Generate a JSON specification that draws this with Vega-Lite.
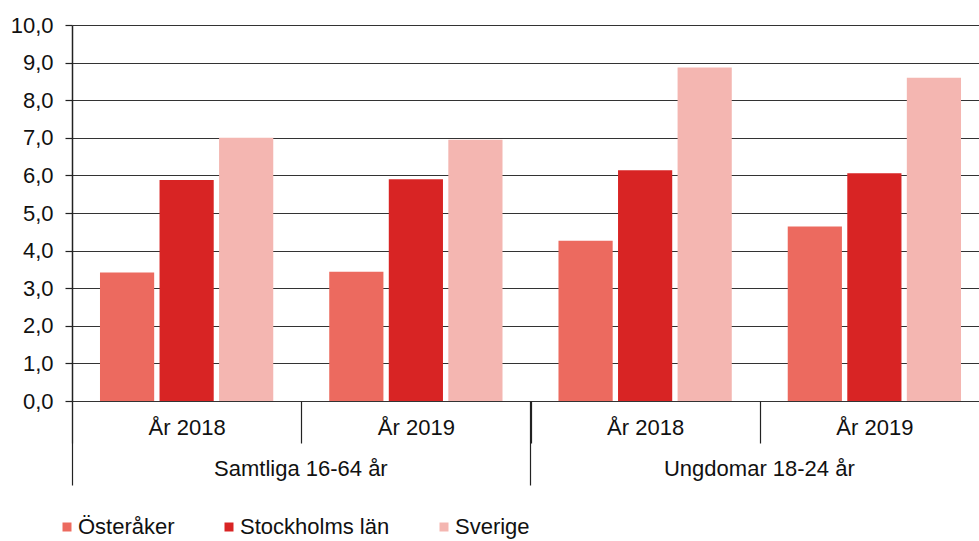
{
  "$schema": "https://vega.github.io/schema/vega-lite/v6.json",
  "autosize": {"type": "none"},
  "width": 907,
  "height": 376,
  "padding": {"left": 72, "top": 25, "right": 0, "bottom": 140},
  "background": "white",
  "config": {
    "view": {"stroke": null},
    "font": "Liberation Sans",
    "axis": {"labelFont": "Liberation Sans", "labelFontSize": 22, "labelColor": "#111", "labelLimit": 0}
  },
  "data": {
    "values": [
      {"cat": "Samtliga 16-64 år|År 2018", "serie": "Österåker", "value": 3.42},
      {"cat": "Samtliga 16-64 år|År 2018", "serie": "Stockholms län", "value": 5.88},
      {"cat": "Samtliga 16-64 år|År 2018", "serie": "Sverige", "value": 7.0},
      {"cat": "Samtliga 16-64 år|År 2019", "serie": "Österåker", "value": 3.44},
      {"cat": "Samtliga 16-64 år|År 2019", "serie": "Stockholms län", "value": 5.9},
      {"cat": "Samtliga 16-64 år|År 2019", "serie": "Sverige", "value": 6.95},
      {"cat": "Ungdomar 18-24 år|År 2018", "serie": "Österåker", "value": 4.26},
      {"cat": "Ungdomar 18-24 år|År 2018", "serie": "Stockholms län", "value": 6.14},
      {"cat": "Ungdomar 18-24 år|År 2018", "serie": "Sverige", "value": 8.87},
      {"cat": "Ungdomar 18-24 år|År 2019", "serie": "Österåker", "value": 4.64},
      {"cat": "Ungdomar 18-24 år|År 2019", "serie": "Stockholms län", "value": 6.06},
      {"cat": "Ungdomar 18-24 år|År 2019", "serie": "Sverige", "value": 8.6}
    ]
  },
  "resolve": {"axis": {"x": "independent"}},
  "layer": [
    {
      "mark": {"type": "bar"},
      "encoding": {
        "x": {
          "field": "cat", "type": "nominal", "sort": null,
          "scale": {"range": [0, 917], "paddingInner": 0, "paddingOuter": 0},
          "axis": {
            "orient": "bottom", "title": null, "domain": false, "grid": false,
            "labelAngle": 0, "tickBand": "extent", "tickSize": 42, "tickColor": "#222", "tickWidth": 1.2,
            "labelPadding": -26, "labelBaseline": "top", "labelLimit": 0,
            "labelExpr": "split(datum.label, '|')[1]"
          }
        },
        "xOffset": {
          "field": "serie", "type": "nominal",
          "sort": ["Österåker", "Stockholms län", "Sverige"],
          "scale": {"paddingInner": 0.09, "paddingOuter": 0.47}
        },
        "y": {
          "field": "value", "type": "quantitative",
          "scale": {"domain": [0, 10], "nice": false},
          "axis": {
            "title": null, "values": [0,1,2,3,4,5,6,7,8,9,10],
            "labelExpr": "replace(format(datum.value, '.1f'), '.', ',')",
            "grid": true, "gridColor": "#333", "gridWidth": 1.2,
            "domainColor": "#222", "domainWidth": 1.5,
            "tickColor": "#222", "tickSize": 7, "tickWidth": 1.2, "labelPadding": 12
          }
        },
        "color": {
          "field": "serie", "type": "nominal",
          "scale": {
            "domain": ["Österåker", "Stockholms län", "Sverige"],
            "range": ["#ec6a5f", "#d82424", "#f4b6b1"]
          },
          "legend": {
            "title": null, "orient": "none", "direction": "horizontal",
            "legendX": -16, "legendY": 491, "padding": 0,
            "symbolType": "square", "symbolSize": 81, "symbolStrokeWidth": 0,
            "labelFont": "Liberation Sans", "labelFontSize": 22, "labelColor": "#111",
            "labelOffset": 0, "columnPadding": 43, "labelLimit": 0
          }
        }
      }
    },
    {
      "mark": {"type": "rule", "opacity": 0},
      "encoding": {
        "x": {
          "field": "cat", "type": "nominal", "sort": null,
          "axis": {
            "orient": "bottom", "title": null, "domain": false, "grid": false,
            "labelAngle": 0, "bandPosition": 0, "tickSize": 84, "tickColor": "#222", "tickWidth": 1.2,
            "tickOpacity": {"condition": {"test": "datum.value == 'Samtliga 16-64 år|År 2018' || datum.value == 'Ungdomar 18-24 år|År 2018'", "value": 1}, "value": 0},
            "labelPadding": -27, "labelBaseline": "top", "labelAlign": "center", "labelOffset": -115, "labelLimit": 0,
            "labelExpr": "datum.value == 'Samtliga 16-64 år|År 2019' ? 'Samtliga 16-64 år' : (datum.value == 'Ungdomar 18-24 år|År 2019' ? 'Ungdomar 18-24 år' : '')"
          }
        }
      }
    }
  ]
}
